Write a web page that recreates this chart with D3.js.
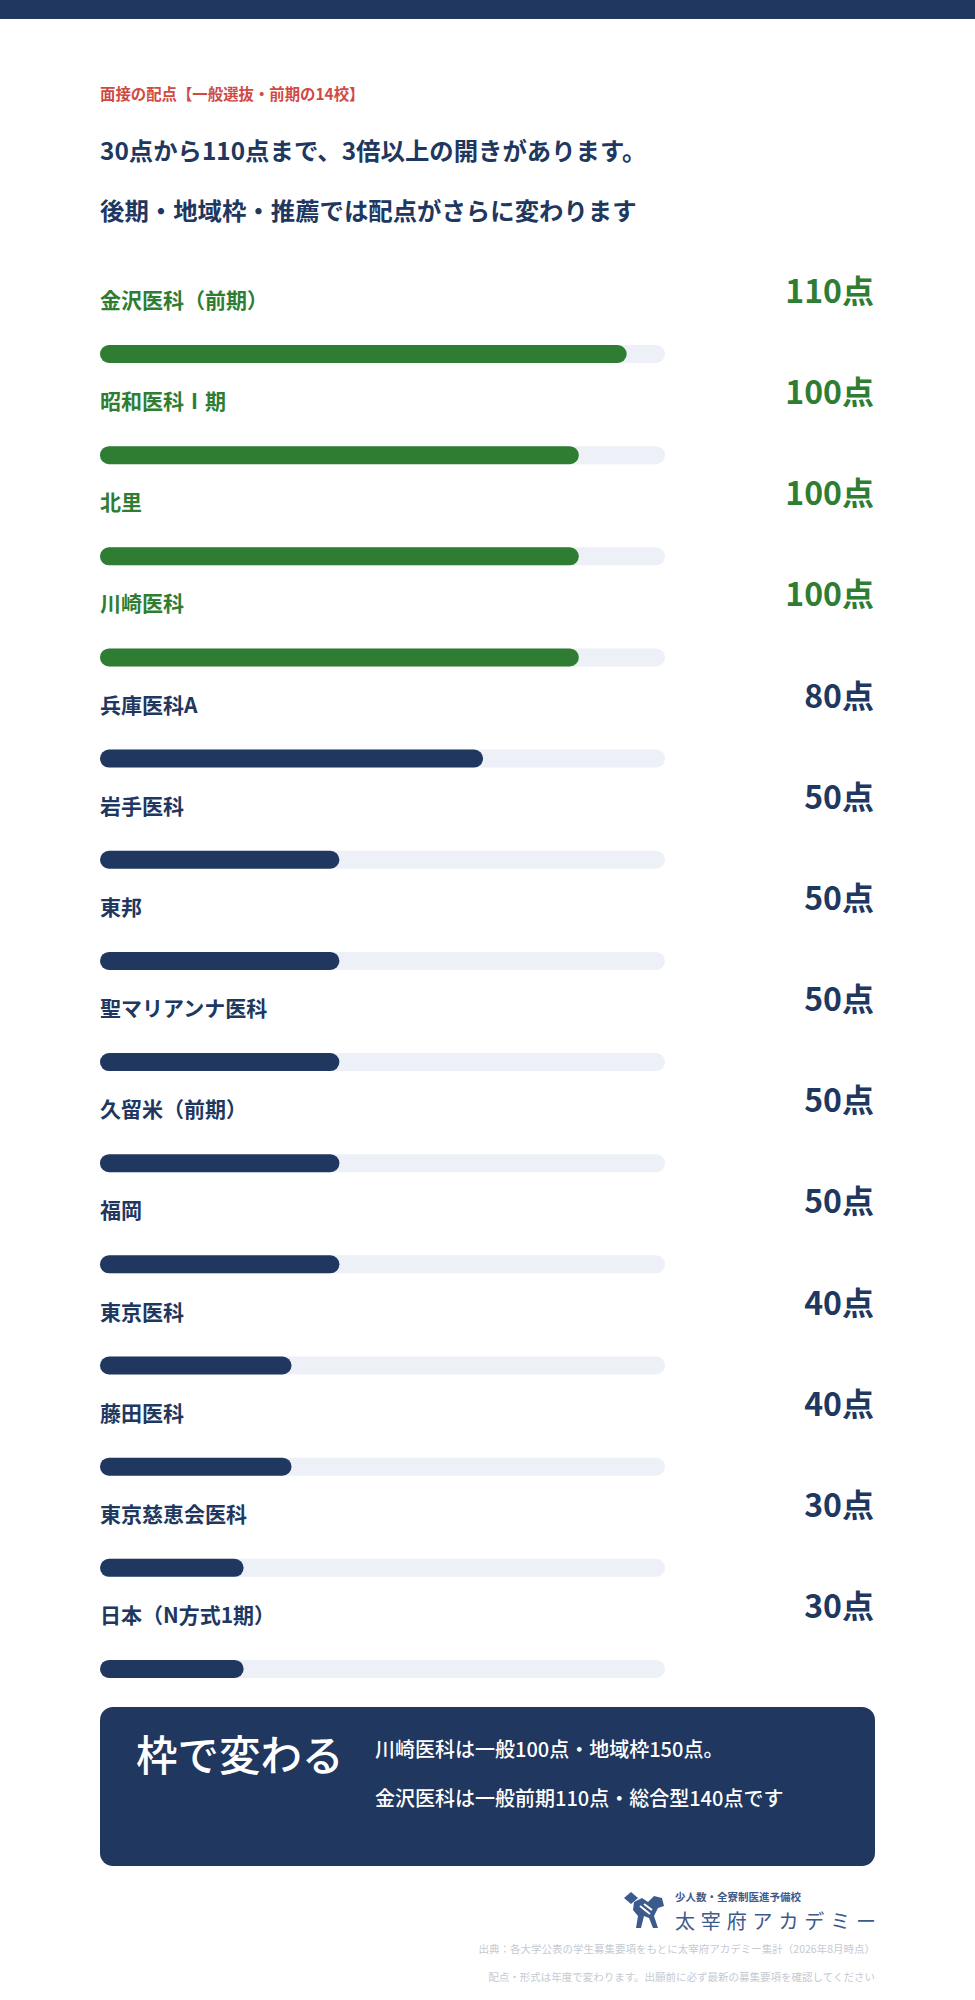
<!DOCTYPE html>
<html>
<head>
<meta charset="utf-8">
<script src="https://cdn.jsdelivr.net/npm/d3@7"></script>
<style>
  body { margin: 0; background: #fff; }
  svg { display: block; font-family: "Noto Sans CJK JP", "Noto Sans", sans-serif; }
</style>
</head>
<body>
<script>
// 面接の配点 (一般選抜・前期)
var schools = ["金沢医科（前期）", "昭和医科Ⅰ期", "北里", "川崎医科", "兵庫医科A", "岩手医科", "東邦",
               "聖マリアンナ医科", "久留米（前期）", "福岡", "東京医科", "藤田医科", "東京慈恵会医科", "日本（N方式1期）"];
var points = [110, 100, 100, 100, 80, 50, 50, 50, 50, 50, 40, 40, 30, 30];
var highlight = [true, true, true, true, false, false, false, false, false, false, false, false, false, false];

var subtitle = "面接の配点【一般選抜・前期の14校】";
var headLines = ["30点から110点まで、3倍以上の開きがあります。", "後期・地域枠・推薦では配点がさらに変わります"];
var noteTitle = "枠で変わる";
var noteLines = ["川崎医科は一般100点・地域枠150点。", "金沢医科は一般前期110点・総合型140点です"];
var sourceLines = ["出典：各大学公表の学生募集要項をもとに太宰府アカデミー集計（2026年8月時点）",
                   "配点・形式は年度で変わります。出願前に必ず最新の募集要項を確認してください"];

var navy = "#20375f", green = "#2e7d32", track = "#edf0f7", red = "#d04a44";
var width = 975, height = 2000;

var svg = d3.select("body").append("svg")
    .attr("width", width)
    .attr("height", height);

svg.append("rect").attr("x", 0).attr("y", 0).attr("width", width).attr("height", 19).attr("fill", navy);

svg.append("text")
    .attr("x", 100).attr("y", 100)
    .attr("font-size", 15.4).attr("font-weight", 700)
    .attr("fill", red)
    .text(subtitle);

svg.selectAll(".head")
    .data(headLines)
    .enter()
    .append("text")
    .attr("class", "head")
    .attr("x", 100)
    .attr("y", function(d, i) { return 160 + i * 60; })
    .attr("font-size", 24.4).attr("font-weight", 700)
    .attr("fill", navy)
    .text(function(d) { return d; });

// rows
var step = 101.15;
var y = d3.scaleBand()
    .domain(schools)
    .range([250, 250 + step * schools.length])
    .padding(0);

var x = d3.scaleLinear()
    .domain([0, 118])
    .range([100, 665]);

var barH = 18;
var rows = svg.selectAll(".row")
    .data(schools)
    .enter()
    .append("g")
    .attr("class", "row")
    .attr("transform", function(d) { return "translate(0," + y(d) + ")"; });

rows.append("text")
    .attr("x", 100).attr("y", 58)
    .attr("font-size", 21).attr("font-weight", 700)
    .attr("fill", function(d, i) { return highlight[i] ? green : navy; })
    .text(function(d) { return d; });

rows.append("text")
    .attr("x", 874).attr("y", 53)
    .attr("text-anchor", "end")
    .attr("font-size", 32).attr("font-weight", 700)
    .attr("fill", function(d, i) { return highlight[i] ? green : navy; })
    .text(function(d, i) { return points[i] + "点"; });

rows.append("rect")
    .attr("x", x(0)).attr("y", 95)
    .attr("width", x(118) - x(0)).attr("height", barH)
    .attr("rx", barH / 2)
    .attr("fill", track);

rows.append("rect")
    .attr("x", x(0)).attr("y", 95)
    .attr("width", function(d, i) { return x(points[i]) - x(0); })
    .attr("height", barH)
    .attr("rx", barH / 2)
    .attr("fill", function(d, i) { return highlight[i] ? green : navy; });

// note box
svg.append("rect")
    .attr("x", 100).attr("y", 1707)
    .attr("width", 775).attr("height", 159)
    .attr("rx", 13)
    .attr("fill", navy);

svg.append("text")
    .attr("x", 136).attr("y", 1771)
    .attr("font-size", 41.5).attr("font-weight", 500)
    .attr("fill", "#fff")
    .text(noteTitle);

svg.selectAll(".note")
    .data(noteLines)
    .enter()
    .append("text")
    .attr("class", "note")
    .attr("x", 375)
    .attr("y", function(d, i) { return 1757 + i * 49; })
    .attr("font-size", 20).attr("font-weight", 500)
    .attr("fill", "#fff")
    .text(function(d) { return d; });

// logo
var logoC = "#3d5a8c";
var logo = svg.append("g").attr("transform", "translate(624,1892)");
logo.append("path").attr("d", "M0,6 L7,0 L14,6 L7,12 Z").attr("fill", logoC);
logo.append("path").attr("d", "M10,10 L18,6 L24,10 L30,4 L38,6 L40,14 L34,16 L30,24 L34,36 L29,36 L25,26 L20,24 L17,36 L12,36 L14,24 L9,18 Z").attr("fill", logoC);
logo.append("path").attr("d", "M16,14 L26,22 M20,12 L28,18").attr("stroke", "#fff").attr("stroke-width", 2);

svg.append("text")
    .attr("x", 675).attr("y", 1901)
    .attr("font-size", 10.5).attr("font-weight", 700)
    .attr("fill", logoC)
    .text("少人数・全寮制医進予備校");

svg.append("text")
    .attr("x", 675).attr("y", 1929)
    .attr("font-size", 20).attr("font-weight", 400)
    .attr("textLength", 201).attr("lengthAdjust", "spacing")
    .attr("fill", logoC)
    .text("太宰府アカデミー");

svg.selectAll(".src")
    .data(sourceLines)
    .enter()
    .append("text")
    .attr("class", "src")
    .attr("x", 875)
    .attr("y", function(d, i) { return 1953 + i * 28; })
    .attr("text-anchor", "end")
    .attr("font-size", 10.5)
    .attr("fill", "#c5cad3")
    .text(function(d) { return d; });
</script>
</body>
</html>
